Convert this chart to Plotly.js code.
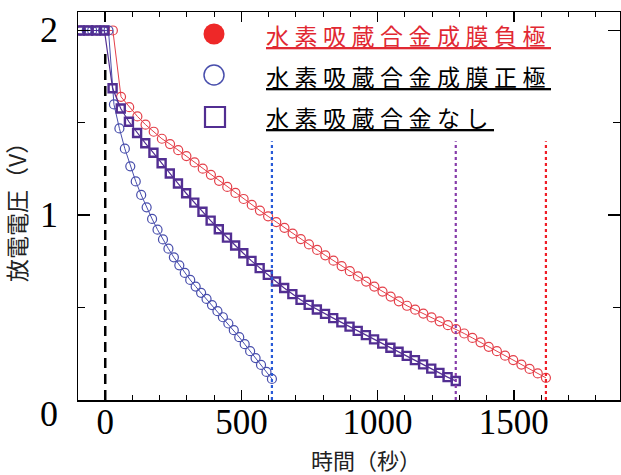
<!DOCTYPE html>
<html><head><meta charset="utf-8">
<script src="https://cdn.plot.ly/plotly-3.0.1.min.js"></script>
<style>html,body{margin:0;padding:0;background:#fff;}</style>
</head><body>
<div id="chart" style="width:621px;height:475px;"></div>
<script>
// ---- data ----
const seriesNames = ['水素吸蔵合金成膜負極', '水素吸蔵合金成膜正極', '水素吸蔵合金なし'];

const redTime = [-92,-62,-32,-2,28,58,88,118,148,178,208,238,268,298,328,358,388,418,448,478,508,538,568,598,628,658,688,718,748,778,808,838,868,898,928,958,988,1018,1048,1078,1108,1138,1168,1198,1228,1258,1288,1318,1348,1378,1408,1438,1468,1498,1528,1558,1588,1618];
const redVolt = [2,2,2,2,2,1.641,1.585,1.535,1.49,1.452,1.414,1.385,1.352,1.32,1.286,1.252,1.219,1.186,1.153,1.121,1.088,1.056,1.025,0.994,0.963,0.932,0.901,0.871,0.842,0.812,0.783,0.754,0.725,0.697,0.669,0.641,0.614,0.587,0.56,0.534,0.51,0.489,0.468,0.447,0.426,0.405,0.384,0.36,0.336,0.312,0.288,0.264,0.24,0.216,0.192,0.168,0.144,0.12];

const blueTime = [-88,-68,-48,-28,-8,12,32,52,72,92,112,132,152,172,192,212,232,252,272,292,312,332,352,372,392,412,432,452,472,492,512,532,552,572,592,612];
const blueVolt = [2,2,2,2,2,2,1.60,1.47,1.36,1.265,1.183,1.11,1.043,0.98,0.922,0.869,0.819,0.772,0.729,0.688,0.65,0.614,0.58,0.547,0.514,0.481,0.448,0.414,0.378,0.34,0.302,0.264,0.227,0.19,0.152,0.114];

const purpleTime = [-93,-63,-33,-3,27,57,87,117,147,177,207,237,267,297,327,357,387,417,447,477,507,537,567,597,627,657,687,717,747,777,807,837,867,897,927,957,987,1017,1047,1077,1107,1137,1167,1197,1227,1257,1287];
const purpleVolt = [2,2,2,2,1.687,1.578,1.506,1.445,1.39,1.338,1.281,1.226,1.172,1.119,1.068,1.019,0.971,0.924,0.879,0.836,0.794,0.753,0.714,0.677,0.641,0.606,0.573,0.542,0.515,0.49,0.466,0.443,0.42,0.397,0.374,0.351,0.328,0.305,0.283,0.261,0.239,0.216,0.193,0.17,0.147,0.124,0.103];

const startTime = 0;                 // discharge start (dashed line)
const endTimes = [612, 1287, 1618];  // end of discharge: 正極, なし, 負極
const xTickVals = [0, 500, 1000, 1500];
const yTickVals = [0, 1, 2];
const xTitle = '時間（秒）';
const yTitle = '放電電圧（V）';

// ---- styling / layout ----
const RED = 'rgb(228,64,74)', BLUE = 'rgb(72,78,172)', PURPLE = 'rgb(82,46,146)';
const PL = 78, PR = 620, PT = 12, PB = 400;
const px2x = p => (p - PL) / (PR - PL);
const px2y = p => (PB - p) / (PB - PT);
const serif = 'Liberation Serif, Times New Roman, serif';
const jp = 'Noto Sans CJK JP, sans-serif';

const traces = [
  {x: redTime, y: redVolt, name: seriesNames[0], type: 'scatter', mode: 'lines+markers',
   line: {color: RED, width: 1},
   marker: {symbol: 'circle-open', size: 9, color: RED, line: {width: 1.2}}},
  {x: blueTime, y: blueVolt, name: seriesNames[1], type: 'scatter', mode: 'lines+markers',
   line: {color: BLUE, width: 1},
   marker: {symbol: 'circle-open', size: 9, color: BLUE, line: {width: 1.2}}},
  {x: purpleTime, y: purpleVolt, name: seriesNames[2], type: 'scatter', mode: 'lines+markers',
   line: {color: PURPLE, width: 1.2},
   marker: {symbol: 'square-open', size: 8, color: PURPLE, line: {width: 2.4}}}
];

const endColors = ['rgb(40,90,215)', 'rgb(135,60,170)', 'rgb(240,30,40)'];
const shapes = [
  {type: 'line', xref: 'x', yref: 'y', x0: startTime, x1: startTime, y0: 0, y1: 1.9,
   line: {color: 'black', width: 2.5, dash: '10px,6px'}}
];
endTimes.forEach((t, i) => shapes.push({type: 'line', xref: 'x', yref: 'y', x0: t, x1: t, y0: 0, y1: 1.4,
  line: {color: endColors[i], width: 2.2, dash: 'dot'}}));

// legend symbols
const legRows = [35, 76, 117];
shapes.push({type: 'circle', xref: 'paper', yref: 'paper', xsizemode: 'pixel', ysizemode: 'pixel',
  xanchor: px2x(214), yanchor: px2y(legRows[0] - 1), x0: -10.5, x1: 10.5, y0: -10.5, y1: 10.5,
  fillcolor: 'rgb(238,40,40)', line: {width: 0}});
shapes.push({type: 'circle', xref: 'paper', yref: 'paper', xsizemode: 'pixel', ysizemode: 'pixel',
  xanchor: px2x(214), yanchor: px2y(legRows[1] - 1), x0: -10, x1: 10, y0: -10, y1: 10,
  fillcolor: 'rgba(0,0,0,0)', line: {color: BLUE, width: 1.5}});
shapes.push({type: 'rect', xref: 'paper', yref: 'paper', xsizemode: 'pixel', ysizemode: 'pixel',
  xanchor: px2x(215), yanchor: px2y(legRows[2]), x0: -10, x1: 10, y0: -10, y1: 10,
  fillcolor: 'rgba(0,0,0,0)', line: {color: PURPLE, width: 2.2}});

const annotations = [];
const legColors = ['rgb(225,40,50)', 'black', 'black'];
seriesNames.forEach((n, i) => annotations.push({
  xref: 'paper', yref: 'paper', x: px2x(264), y: px2y(legRows[i]), xanchor: 'left', yanchor: 'middle',
  align: 'left', showarrow: false, text: '<u>' + n + '</u>',
  font: {family: jp, size: 23, color: legColors[i]}
}));
yTickVals.forEach(v => annotations.push({
  xref: 'paper', yref: 'y', x: px2x(60), y: v, xanchor: 'right', yanchor: 'middle',
  showarrow: false, text: String(v), yshift: v === 0 ? -14 : 0,
  font: {family: serif, size: 36, color: 'black'}
}));
annotations.push({xref: 'paper', yref: 'paper', x: px2x(366), y: px2y(459), xanchor: 'center', yanchor: 'middle',
  showarrow: false, text: xTitle, font: {family: jp, size: 22, color: '#222'}});
annotations.push({xref: 'paper', yref: 'paper', x: px2x(16), y: px2y(207), xanchor: 'center', yanchor: 'middle',
  showarrow: false, textangle: -90, text: yTitle, font: {family: jp, size: 23, color: '#222'}});

const layout = {
  width: 621, height: 475,
  margin: {l: PL, r: 621 - PR, t: PT, b: 475 - PB, pad: 0},
  paper_bgcolor: 'white', plot_bgcolor: 'white',
  showlegend: false,
  xaxis: {range: [-100, 1890], tickmode: 'array', tickvals: xTickVals, ticktext: xTickVals.map(String),
    ticks: 'inside', ticklen: 10, tickwidth: 1.5, tickcolor: 'black',
    showline: true, linecolor: 'black', linewidth: 1.5, mirror: 'ticks',
    showgrid: false, zeroline: false, ticklabelstandoff: -10,
    tickfont: {family: serif, size: 35, color: 'black'},
    minor: {tickmode: 'linear', tick0: 0, dtick: 100, ticks: 'inside', ticklen: 5, tickwidth: 1, tickcolor: 'black', showgrid: false}},
  yaxis: {range: [0, 2.1], tickmode: 'array', tickvals: yTickVals, showticklabels: false,
    ticks: 'inside', ticklen: 12, tickwidth: 1.5, tickcolor: 'black',
    showline: true, linecolor: 'black', linewidth: 1.5, mirror: 'ticks',
    showgrid: false, zeroline: false,
    minor: {tickmode: 'linear', tick0: 0, dtick: 0.5, ticks: 'inside', ticklen: 7, tickwidth: 1, tickcolor: 'black', showgrid: false}},
  shapes: shapes,
  annotations: annotations
};

Plotly.newPlot('chart', traces, layout, {staticPlot: true}).then(() => {
  document.querySelectorAll('.annotation-text').forEach(el => {
    if (seriesNames.includes(el.textContent)) el.style.letterSpacing = '5.5px';
  });
});
</script>
</body></html>
